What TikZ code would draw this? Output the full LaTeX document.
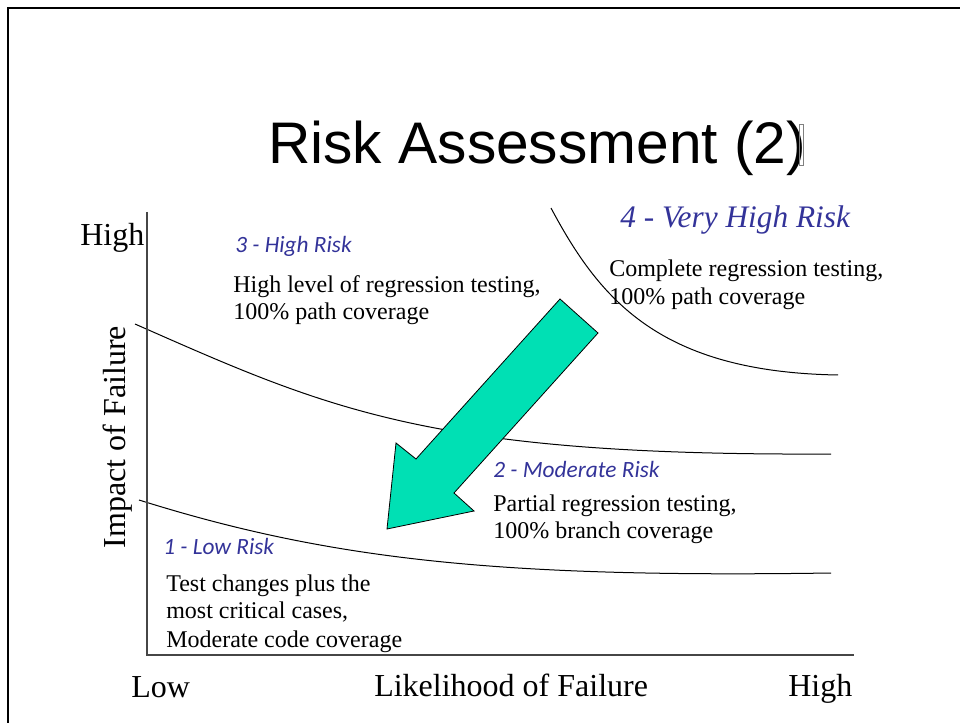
\documentclass[tikz,border=0pt]{standalone}
\usepackage{fontspec}
\setmainfont{Liberation Serif}
\newfontfamily\titlefont{Liberation Sans}
\newfontfamily\calfont{Carlito}
\definecolor{riskblue}{RGB}{51,51,153}
\definecolor{arrowfill}{RGB}{0,224,180}
\definecolor{axisgray}{RGB}{70,70,70}
\begin{document}
\begin{tikzpicture}[x=0.75pt,y=-0.75pt,
  txt/.style={inner sep=0pt,anchor=base west,font=\fontsize{18}{21}\selectfont},
  axlabel/.style={inner sep=0pt,anchor=base west,font=\fontsize{24}{28}\selectfont},
  risklbl/.style={inner sep=0pt,anchor=base west,text=riskblue,font=\calfont\itshape\fontsize{17.5}{21}\selectfont},
  curve/.style={line width=0.75pt,black},
  axisline/.style={line width=1.4pt,axisgray},
  framestyle/.style={line width=1.5pt,black}]
\useasboundingbox (0,0) rectangle (960,723);
% slide frame
\coordinate (frTR) at (960,8);
\coordinate (frTL) at (8,8);
\coordinate (frBL) at (8,723);
\draw[framestyle] (frTR) -- (frTL) -- (frBL);
% title
\node[inner sep=0pt,anchor=base west,font=\titlefont\fontsize{44}{50}\selectfont] (title) at (268,164) {Risk Assessment (2)};
\node[draw=gray,line width=0.5pt,minimum width=3pt,minimum height=31pt,inner sep=0pt,anchor=north west] (tbox) at (799,124) {};
% curves
\draw[curve] (139,500) .. controls (330,560) and (500,578) .. (831,573);
\draw[curve] (135,324) .. controls (330,410) and (430,456) .. (831,454);
\draw[curve] (551,208) .. controls (600,300) and (660,372) .. (838,375);
% axes
\coordinate (ytop) at (147,212);
\coordinate (origin) at (147,655);
\coordinate (xend) at (854,655);
\draw[axisline] (ytop) -- (origin) -- (xend);
% big arrow
\draw[fill=arrowfill,line width=0.6pt,line join=miter] (560,299) -- (598,333) -- (454,493) -- (474,511) -- (387,529) -- (396,443) -- (416,459) -- cycle;
% axis labels
\node[axlabel] (yhigh) at (80,246) {High};
\node[axlabel] (xlow) at (131,697) {Low};
\node[axlabel] (xname) at (374,696) {Likelihood of Failure};
\node[axlabel] (xhigh) at (788,696) {High};
\node[inner sep=0pt,anchor=base,rotate=90,font=\fontsize{24}{28}\selectfont] (yname) at (125,437) {Impact of Failure};
% region 3
\node[risklbl] (r3) at (235,253) {3 - High Risk};
\node[txt] (r3a) at (233,293) {High level of regression testing,};
\node[txt] (r3b) at (233,320) {100\% path coverage};
% region 4
\node[inner sep=0pt,anchor=base west,text=riskblue,font=\itshape\fontsize{23.5}{28}\selectfont] (r4) at (620,228) {4 - Very High Risk};
\node[txt] (r4a) at (609,277) {Complete regression testing,};
\node[txt] (r4b) at (609,305) {100\% path coverage};
% region 2
\node[risklbl] (r2) at (493,477) {2 - Moderate Risk};
\node[txt] (r2a) at (493,511) {Partial regression testing,};
\node[txt] (r2b) at (493,538) {100\% branch coverage};
% region 1
\node[risklbl] (r1) at (163,554) {1 - Low Risk};
\node[txt] (r1a) at (166,591) {Test changes plus the};
\node[txt] (r1b) at (166,618) {most critical cases,};
\node[txt] (r1c) at (166,647) {Moderate code coverage};
\end{tikzpicture}
\end{document}
